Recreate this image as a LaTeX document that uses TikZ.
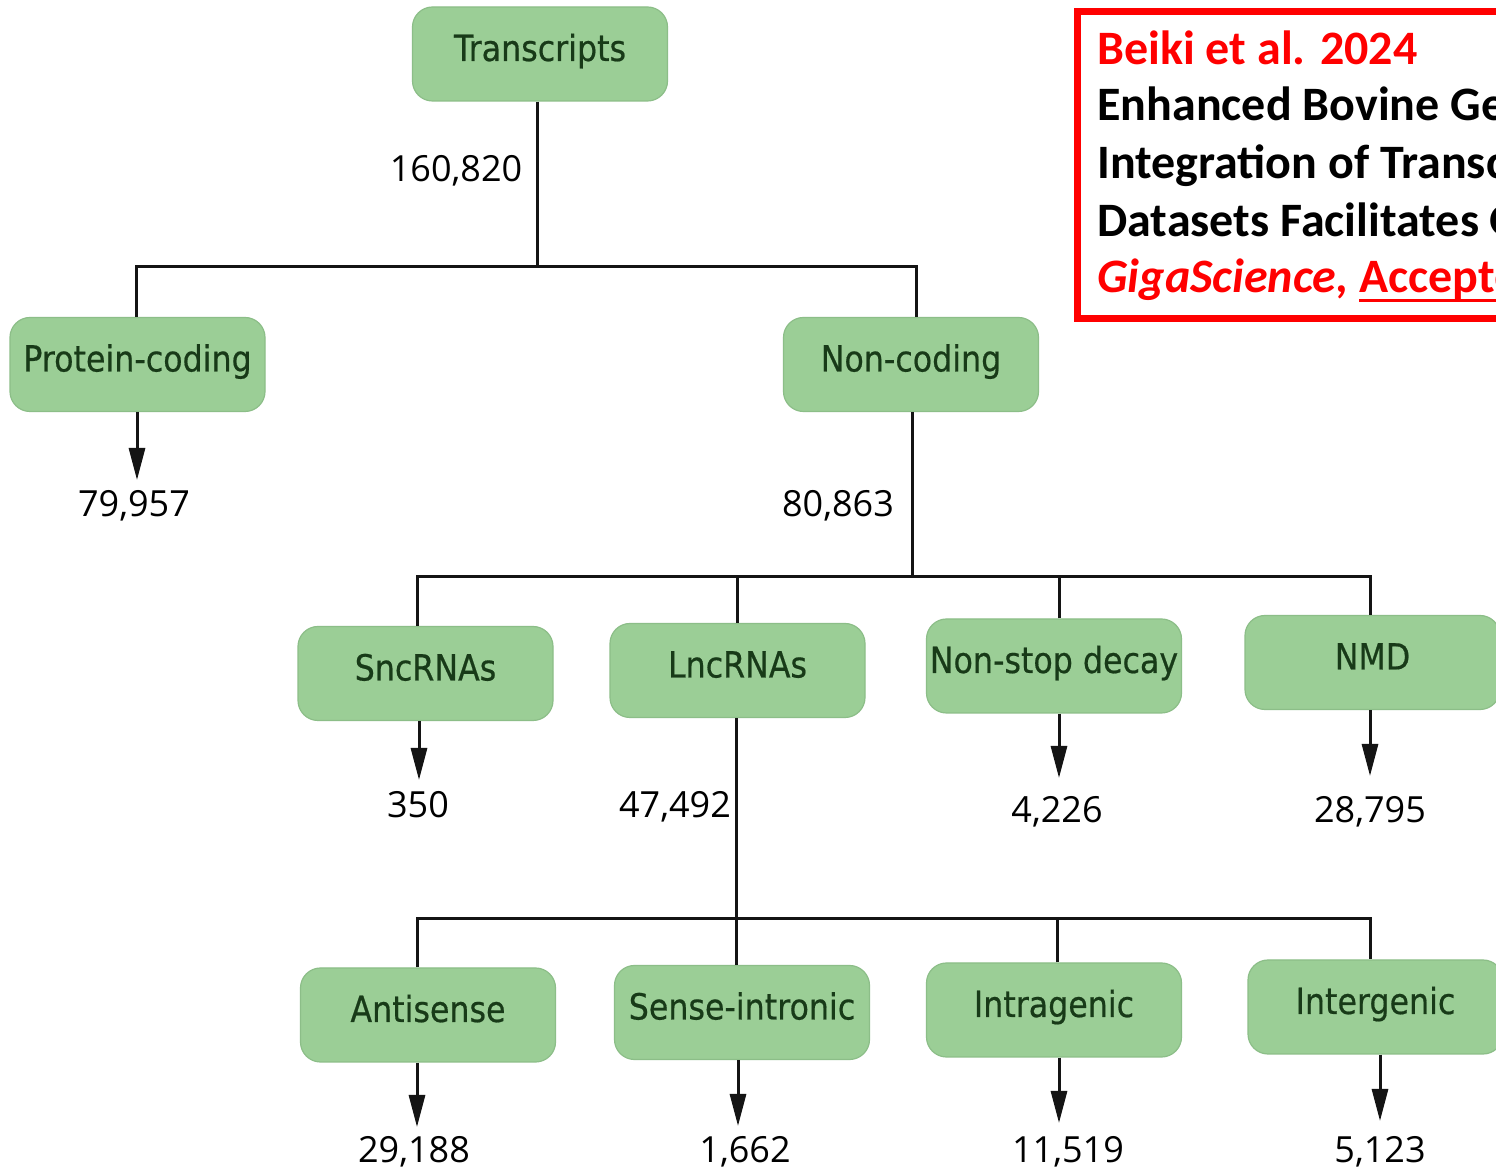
\documentclass[tikz,border=0pt]{standalone}
\usepackage{fontspec}
\usetikzlibrary{arrows.meta}
\newfontfamily\boxfont[FakeStretch=0.88,FakeBold=0.5]{DejaVu Sans}
\newfontfamily\numfont{Open Sans}
\newfontfamily\citefont{Carlito}
\definecolor{boxgreen}{RGB}{155,206,150}
\definecolor{boxedge}{RGB}{140,190,136}
\definecolor{boxtext}{RGB}{24,58,24}
\definecolor{linecol}{RGB}{20,20,20}
\definecolor{citered}{RGB}{255,0,0}
\newcommand\myul[1]{\setbox0\hbox{#1}\rlap{\rule[-4.5pt]{\wd0}{1.4pt}}\box0}
\begin{document}
\begin{tikzpicture}[x=0.5pt,y=-0.5pt,
  box/.style={draw=boxedge, line width=0.6pt, fill=boxgreen, rounded corners=10pt,
    minimum width=127.5pt, minimum height=47pt, inner sep=0pt,
    font=\boxfont\fontsize{18}{20}\selectfont, text=boxtext,
    text height=13pt, text depth=6pt},
  num/.style={anchor=base, inner sep=0pt, font=\numfont\fontsize{18}{20}\selectfont},
  link/.style={draw=linecol, line width=1.5pt},
  arr/.style={link, -{Triangle[length=16pt,width=8pt]}},
  cite/.style={anchor=base west, inner sep=0pt, font=\citefont\bfseries\fontsize{24}{28}\selectfont}]
\useasboundingbox (0,0) rectangle (1496,1170);
\clip (0,0) rectangle (1496,1170);
\fill[white] (0,0) rectangle (1496,1170);

% boxes
\node[box] (T) at (540,54) {Transcripts};
\node[box] (PC) at (137.5,364.5) {Protein-coding};
\node[box] (NC) at (911,364.5) {Non-coding};
\node[box] (Snc) at (425.5,673.5) {SncRNAs};
\node[box] (Lnc) at (737.5,670.5) {LncRNAs};
\node[box] (NSD) at (1054,666) {Non-stop decay};
\node[box] (NMD) at (1372.5,662.5) {NMD};
\node[box] (Anti) at (428,1015) {Antisense};
\node[box] (Sense) at (742,1012.5) {Sense-intronic};
\node[box] (Intra) at (1054,1010) {Intragenic};
\node[box] (Inter) at (1375.5,1007) {Intergenic};

% junctions
\coordinate (j1) at (537,267);
\coordinate (j2) at (912,577);
\coordinate (j3) at (736,919);

% tree lines
\draw[link] (T.south -| j1) -- (j1);
\draw[link] ([xshift=-0.5pt]PC.north) |- (j1) -| ([xshift=2.5pt]NC.north);
\draw[link] (NC.south -| j2) -- (j2);
\draw[link] ([xshift=-4.25pt]Snc.north) |- (j2) -| ([xshift=-1.25pt]NMD.north);
\draw[link] (j2 -| Lnc.north) -- (Lnc.north);
\draw[link] ([xshift=2.5pt]NSD.north) -- ++(0,-42);
\draw[link] (Lnc.south -| j3) -- (j3);
\draw[link] ([xshift=-5.5pt]Anti.north) |- (j3) -| ([xshift=-2.75pt]Inter.north);
\draw[link] (j3) -- (j3 |- Sense.north);
\draw[link] ([xshift=1.5pt]Intra.north) -- ++(0,-44);

% arrow ends
\coordinate (ePC) at (137,480);
\coordinate (eSnc) at (419,780);
\coordinate (eNSD) at (1059,778);
\coordinate (eNMD) at (1370,776);
\coordinate (eAnti) at (417,1127);
\coordinate (eSense) at (738,1126);
\coordinate (eIntra) at (1059,1123);
\coordinate (eInter) at (1380,1121);
\draw[arr] (ePC |- PC.south) -- (ePC);
\draw[arr] (eSnc |- Snc.south) -- (eSnc);
\draw[arr] (eNSD |- NSD.south) -- (eNSD);
\draw[arr] (eNMD |- NMD.south) -- (eNMD);
\draw[arr] (eAnti |- Anti.south) -- (eAnti);
\draw[arr] (eSense |- Sense.south) -- (eSense);
\draw[arr] (eIntra |- Intra.south) -- (eIntra);
\draw[arr] (eInter |- Inter.south) -- (eInter);

% numbers
\node[num] (n1) at (456,182) {160,820};
\node[num] (n2) at (134,517) {79,957};
\node[num] (n3) at (838,517) {80,863};
\node[num] (n4) at (418,818) {350};
\node[num] (n5) at (675,818) {47,492};
\node[num] (n6) at (1057,823) {4,226};
\node[num] (n7) at (1370,823) {28,795};
\node[num] (n8) at (414,1163) {29,188};
\node[num] (n9) at (745,1163) {1,662};
\node[num] (n10) at (1068,1163) {11,519};
\node[num] (n11) at (1380,1163) {5,123};

% citation box
\draw[draw=citered, line width=3.5pt] (1077.5,11.5) rectangle (1540,318.5);
\node[cite, text=citered] (c1) at (1097,65) {Beiki et al. 2024};
\node[cite] (c2) at (1097,121) {Enhanced Bovine Genome};
\node[cite] (c3) at (1097,179) {Integration of Transcriptomics};
\node[cite] (c4) at (1097,237) {Datasets Facilitates Genomic};
\node[cite, text=citered] (c5) at (1097,293) {\itshape GigaScience, \upshape\myul{Accepted}};
\end{tikzpicture}
\end{document}
